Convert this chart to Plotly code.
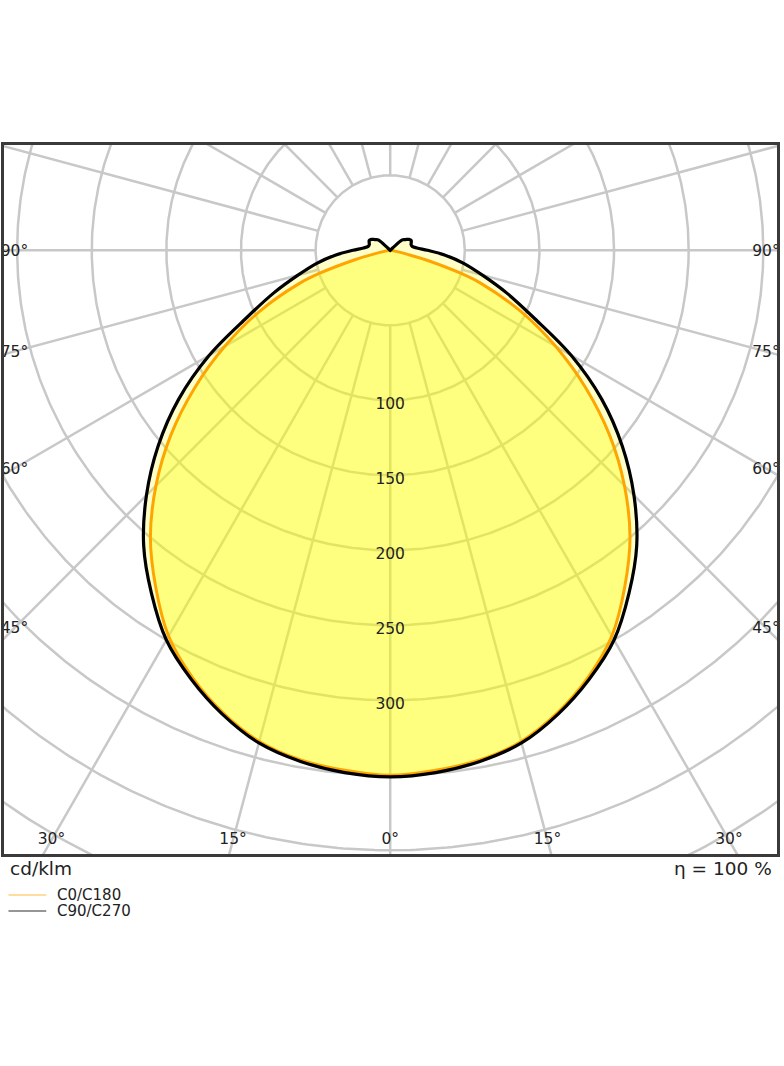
import numpy as np
import plotly.graph_objects as go

# ---------------- data (cd/klm vs gamma angle, degrees) ----------------
angles_c90 = [0, 5, 10, 15, 20, 25, 30, 35, 40, 45, 50, 55, 60, 65, 70, 75, 80, 85, 90,
              95, 100, 105, 110, 115, 120, 125, 130, 132, 134, 136, 150, 180]
values_c90 = [351, 349.5, 346, 340, 329, 315.5, 300, 279, 257, 231, 203, 173, 140, 106, 83, 64, 50, 37, 25,
              18, 15, 14.5, 15, 15.5, 14.5, 12.5, 11, 9, 2, 0, 0, 0]

angles_c0 = [0, 5, 10, 15, 20, 25, 30, 35, 40, 45, 50, 55, 60, 65, 70, 72, 75, 77, 80, 85, 90, 180]
values_c0 = [350, 348, 345, 339, 328, 314, 297, 274, 250, 222, 192, 160, 128, 97, 65, 50, 25, 12, 4, 1, 0, 0]

grid_radii = [50, 100, 150, 200, 250, 300, 350, 400, 450]
radial_angles = list(range(0, 360, 15))
radius_labels = [100, 150, 200, 250, 300]
side_angle_labels = [90, 75, 60, 45]
bottom_angle_labels = [30, 15, 0, 15, 30]
bottom_angle_signs = [-1, -1, 0, 1, 1]
series_names = ["C0/C180", "C90/C270"]
unit_text = "cd/klm"
eta_text = "η = 100 %"

# ---------------- layout constants (pixels) ----------------
W, H = 784, 1066
PX = 1.5                     # pixels per cd/klm
CX, CY = 391.7, 250.3        # pixel position of the polar origin
L, R, T, B = 3.5, 780.5, 145.0, 854.0   # plot area in pixels
xr = [(L - CX) / PX, (R - CX) / PX]
yr = [(CY - B) / PX, (CY - T) / PX]

FONT = "DejaVu Sans"
GRID = "#c8c8c8"

def to_xy(angles, values):
    a = np.radians(np.asarray(angles, float))
    v = np.asarray(values, float)
    xs_right = v * np.sin(a)
    ys = -v * np.cos(a)
    x = np.concatenate([xs_right, -xs_right[::-1]])
    y = np.concatenate([ys, ys[::-1]])
    return x, y

fig = go.Figure()

# grid circles
gx, gy = [], []
t = np.linspace(0, 2 * np.pi, 721)
for r in grid_radii:
    gx += list(r * np.cos(t)) + [None]
    gy += list(r * np.sin(t)) + [None]
# radial lines (from the first circle outwards)
for ang in radial_angles:
    a = np.radians(ang)
    gx += [grid_radii[0] * np.sin(a), 800 * np.sin(a), None]
    gy += [-grid_radii[0] * np.cos(a), -800 * np.cos(a), None]
fig.add_trace(go.Scatter(x=gx, y=gy, mode="lines", line=dict(color=GRID, width=2.5),
                         hoverinfo="skip", showlegend=False))

# C90/C270 fill (light), then C0/C180, then C90/C270 outline on top
x90, y90 = to_xy(angles_c90, values_c90)
x0, y0 = to_xy(angles_c0, values_c0)
fig.add_trace(go.Scatter(x=x90, y=y90, mode="lines", fill="toself",
                         fillcolor="rgba(255,255,0,0.22)",
                         line=dict(width=0, shape="spline", smoothing=1.0),
                         hoverinfo="skip", showlegend=False))
fig.add_trace(go.Scatter(x=x0, y=y0, mode="lines", fill="toself",
                         fillcolor="rgba(255,255,0,0.36)",
                         line=dict(color="#ffa500", width=3, shape="spline", smoothing=1.0),
                         name=series_names[0], showlegend=False))
fig.add_trace(go.Scatter(x=x90, y=y90, mode="lines",
                         line=dict(color="#000000", width=3.2, shape="spline", smoothing=1.0),
                         name=series_names[1], showlegend=False))

# radius labels
fig.add_trace(go.Scatter(x=[0] * len(radius_labels), y=[-v - 3.1 for v in radius_labels],
                         mode="text", text=[str(v) for v in radius_labels],
                         textfont=dict(family=FONT, size=15.5, color="#222222"),
                         hoverinfo="skip", showlegend=False))

# angle labels on the left/right edges
side_x = (14 - CX) / PX
lx, ly, lt = [], [], []
for ang in side_angle_labels:
    a = np.radians(ang)
    for s in (-1, 1):
        xx = abs(side_x) if s > 0 else side_x
        lx.append(xx)
        ly.append((-abs(xx) / np.tan(a) if ang != 90 else 0.0) - 1.0)
        lt.append(f"{ang}°")
bottom_y = (CY - 840) / PX
for ang, s in zip(bottom_angle_labels, bottom_angle_signs):
    a = np.radians(ang)
    lx.append(s * abs(bottom_y) * np.tan(a))
    ly.append(bottom_y)
    lt.append(f"{ang}°")
fig.add_trace(go.Scatter(x=lx, y=ly, mode="text", text=lt, cliponaxis=True,
                         textfont=dict(family=FONT, size=15.5, color="#222222"),
                         hoverinfo="skip", showlegend=False))

def px2paper(px, py):
    return (px - L) / (R - L), (B - py) / (B - T)

annotations = []
ux, uy = px2paper(8, 868)
annotations.append(dict(x=ux, y=uy, xref="paper", yref="paper", text=unit_text, showarrow=False,
                        xanchor="left", yanchor="middle",
                        font=dict(family=FONT, size=18.5, color="#222222")))
ex, ey = px2paper(777, 868)
annotations.append(dict(x=ex, y=ey, xref="paper", yref="paper", text=eta_text, showarrow=False,
                        xanchor="right", yanchor="middle",
                        font=dict(family=FONT, size=18.5, color="#222222")))

# legend (drawn manually)
shapes = []
legend_colors = ["rgba(255,165,0,0.5)", "rgba(0,0,0,0.55)"]
for i, (name, col) in enumerate(zip(series_names, legend_colors)):
    yy = 895 + 16 * i
    xa, ya = px2paper(8, yy)
    xb, _ = px2paper(46, yy)
    shapes.append(dict(type="line", xref="paper", yref="paper", x0=xa, x1=xb, y0=ya, y1=ya,
                       line=dict(color=col, width=1.5)))
    tx, ty = px2paper(55, yy)
    annotations.append(dict(x=tx, y=ty, xref="paper", yref="paper", text=name, showarrow=False,
                            xanchor="left", yanchor="middle",
                            font=dict(family=FONT, size=15, color="#222222")))

axis_common = dict(showgrid=False, zeroline=False, showticklabels=False, ticks="",
                   showline=True, mirror=True, linecolor="#3a3a3a", linewidth=3, fixedrange=True)
fig.update_layout(
    width=W, height=H,
    margin=dict(l=L, r=W - R, t=T, b=H - B, pad=0),
    paper_bgcolor="white", plot_bgcolor="white",
    xaxis=dict(range=xr, **axis_common),
    yaxis=dict(range=yr, **axis_common),
    showlegend=False,
    annotations=annotations, shapes=shapes,
    font=dict(family=FONT),
)

fig.write_html("out.html", config={"displayModeBar": False},
               post_script="document.body.style.margin='0px';document.body.style.overflow='hidden';")
